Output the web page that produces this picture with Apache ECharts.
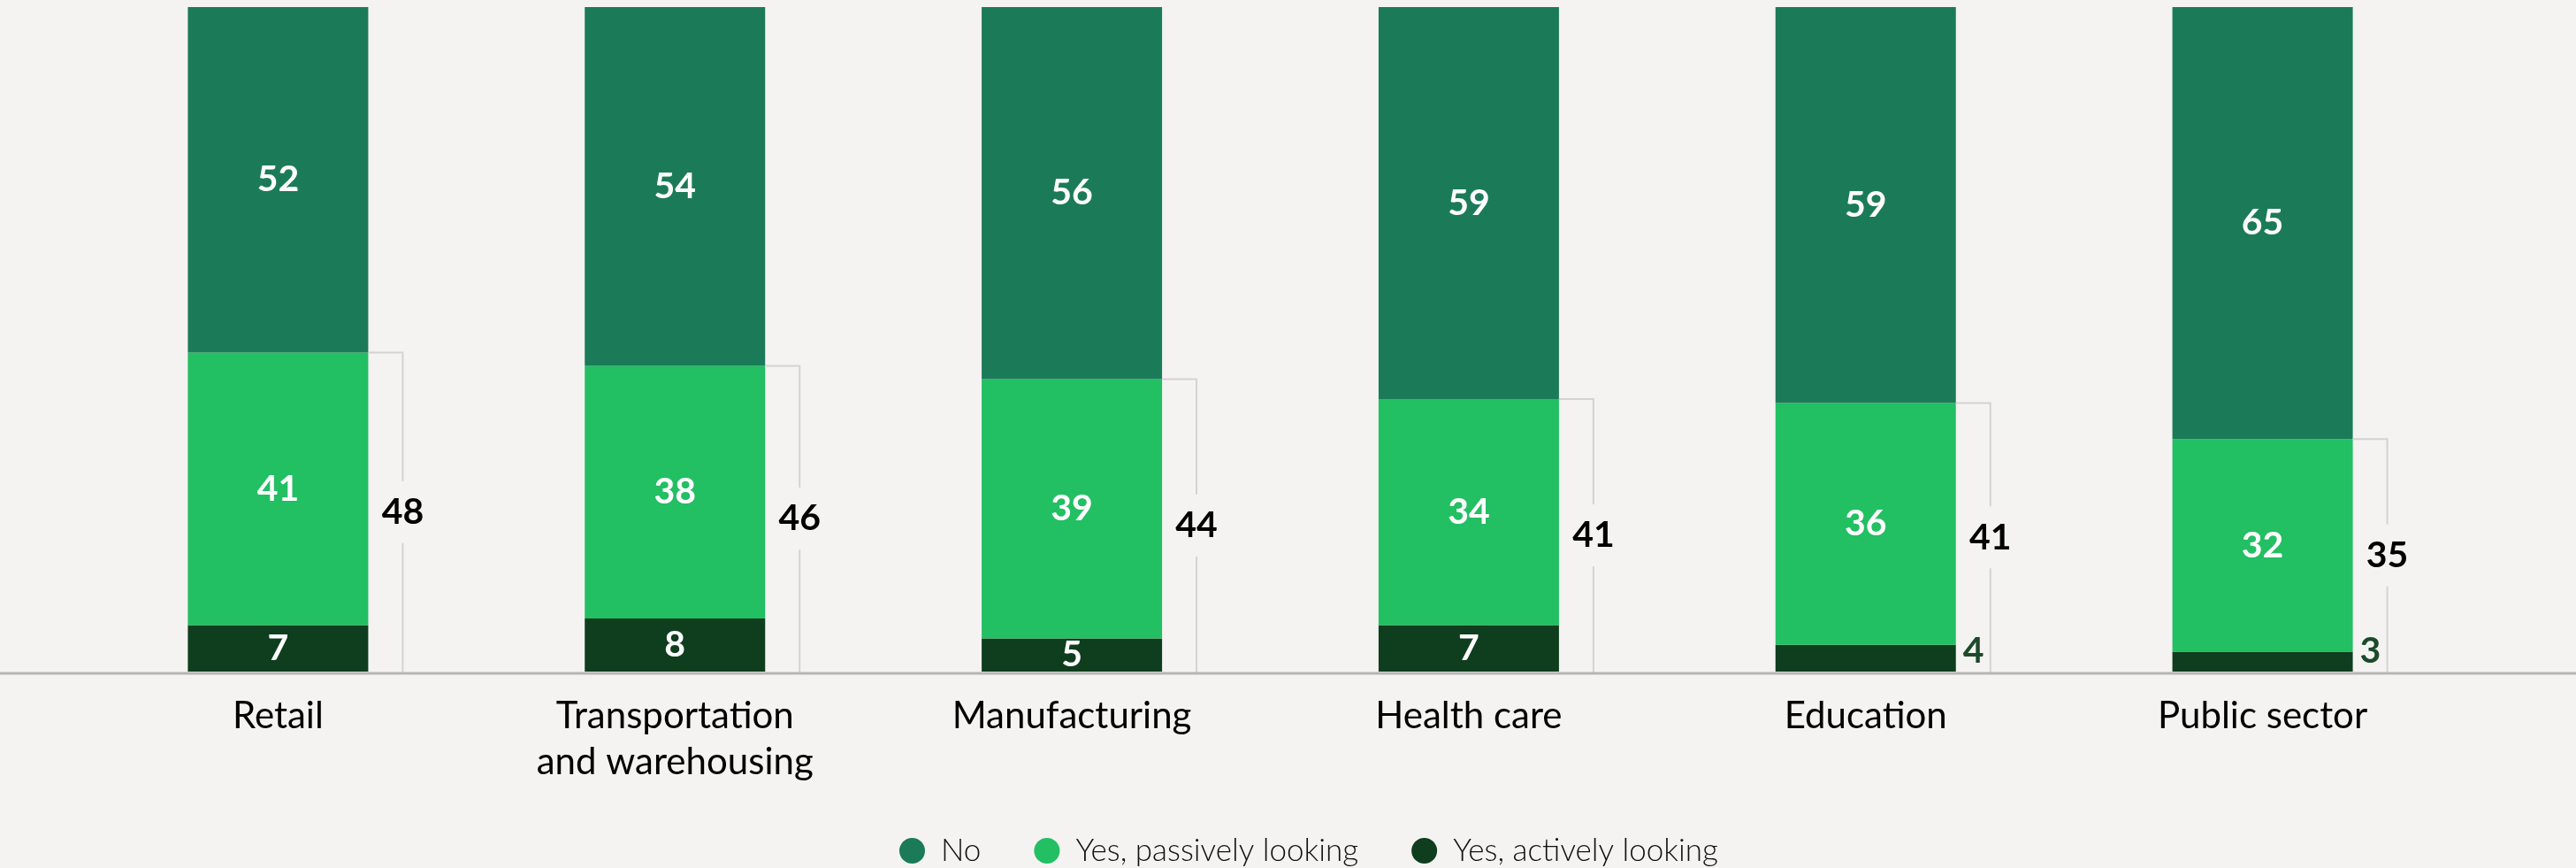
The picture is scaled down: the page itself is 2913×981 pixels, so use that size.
<!DOCTYPE html>
<html>
<head>
<meta charset="utf-8">
<script src="https://cdn.jsdelivr.net/npm/echarts@6/dist/echarts.min.js"></script>
<style>
  html, body { margin: 0; padding: 0; background: #f4f3f1; }
  #main { width: 2913px; height: 981px; }
</style>
</head>
<body>
<div id="main"></div>
<script>
// 数据（百分比，四舍五入后的值）
var categories = ['Retail', 'Transportation\nand warehousing', 'Manufacturing', 'Health care', 'Education', 'Public sector'];
var noValues = [52, 54, 56, 59, 59, 65];
var passiveValues = [41, 38, 39, 34, 36, 32];
var activeValues = [7, 8, 5, 7, 4, 3];
var yesTotals = [48, 46, 44, 41, 41, 35];

var BAR_W = 204;
var FONT = 'Lato, "Open Sans", sans-serif';

// 每根柱子按 100% 归一化（四舍五入导致合计不一定等于 100）
var sums = categories.map(function (c, i) {
  return noValues[i] + passiveValues[i] + activeValues[i];
});
function share(arr, i) {
  return arr[i] / sums[i] * 100;
}

var chart = echarts.init(document.getElementById('main'));

// 括号 + 合计
function renderBracket(params, api) {
  var i = api.value(0);
  var top = api.coord([i, api.value(1)]);
  var base = api.coord([i, 0]);
  var xl = top[0] + BAR_W / 2;
  var xr = xl + 39;
  var mid = (top[1] + base[1]) / 2;
  var lineStyle = { stroke: '#d3d3d3', lineWidth: 2, fill: null };
  return {
    type: 'group',
    children: [
      { type: 'polyline', shape: { points: [[xl, top[1]], [xr, top[1]], [xr, mid - 35]] }, style: lineStyle },
      { type: 'line', shape: { x1: xr, y1: mid + 35, x2: xr, y2: base[1] + 1 }, style: lineStyle },
      { type: 'text', x: xr, y: mid, style: {
          text: String(api.value(2)), fill: '#000', fontFamily: FONT, fontWeight: 'bold', fontSize: 41,
          align: 'center', verticalAlign: 'middle' } }
    ]
  };
}

var bracketData = categories.map(function (c, i) {
  return [i, share(activeValues, i) + share(passiveValues, i), yesTotals[i]];
});

var inLabel = {
  show: true, position: 'inside', color: '#fff',
  fontFamily: FONT, fontWeight: 'bold', fontSize: 41,
  formatter: function (p) { return p.data.raw; }
};

function barData(arr, outsideSmall) {
  return arr.map(function (v, i) {
    var item = { value: share(arr, i), raw: v };
    // 小数值的标签放到柱子外
    if (outsideSmall && v <= 4) {
      item.label = {
        position: ['100%', '100%'], align: 'left', verticalAlign: 'bottom',
        offset: [8, -3], color: '#1c4a2b'
      };
    }
    return item;
  });
}

chart.setOption({
  backgroundColor: '#f4f3f1',
  animation: false,
  grid: { left: 90, right: 130, top: 8, bottom: 222 },
  legend: {
    data: ['No', 'Yes, passively looking', 'Yes, actively looking'],
    left: 1017, top: 944, padding: 0,
    icon: 'circle', itemWidth: 29, itemHeight: 29, itemGap: 60,
    textStyle: { fontFamily: FONT, fontSize: 35, fontWeight: 300, color: '#111', padding: [0, 0, 0, 13] }
  },
  xAxis: {
    type: 'category',
    data: categories,
    axisLine: { show: false },
    axisTick: { show: false },
    axisLabel: {
      margin: 24, color: '#000', fontFamily: FONT, fontSize: 42, lineHeight: 52,
      interval: 0
    }
  },
  yAxis: {
    type: 'value', min: 0, max: 100, show: false,
    splitLine: { show: false }
  },
  series: [
    {
      name: 'Yes, actively looking', type: 'bar', stack: 'all', barWidth: BAR_W,
      itemStyle: { color: '#0f3e1e' }, label: inLabel, data: barData(activeValues, true)
    },
    {
      name: 'Yes, passively looking', type: 'bar', stack: 'all', barWidth: BAR_W,
      itemStyle: { color: '#22bf63' }, label: inLabel, data: barData(passiveValues)
    },
    {
      name: 'No', type: 'bar', stack: 'all', barWidth: BAR_W,
      itemStyle: { color: '#1b7b59' }, label: inLabel, data: barData(noValues)
    },
    {
      name: 'bracket', type: 'custom', silent: true,
      renderItem: renderBracket,
      encode: { x: 0, y: 1 },
      data: bracketData, z: 3
    }
  ]
});

// 底部横线，贯穿整个宽度
var baseY = chart.convertToPixel({ yAxisIndex: 0 }, 0);
chart.setOption({
  graphic: [{
    type: 'line', silent: true, z: 10,
    shape: { x1: 0, y1: baseY + 2, x2: 2913, y2: baseY + 2 },
    style: { stroke: '#b5b5b5', lineWidth: 3 }
  }]
});
</script>
</body>
</html>
